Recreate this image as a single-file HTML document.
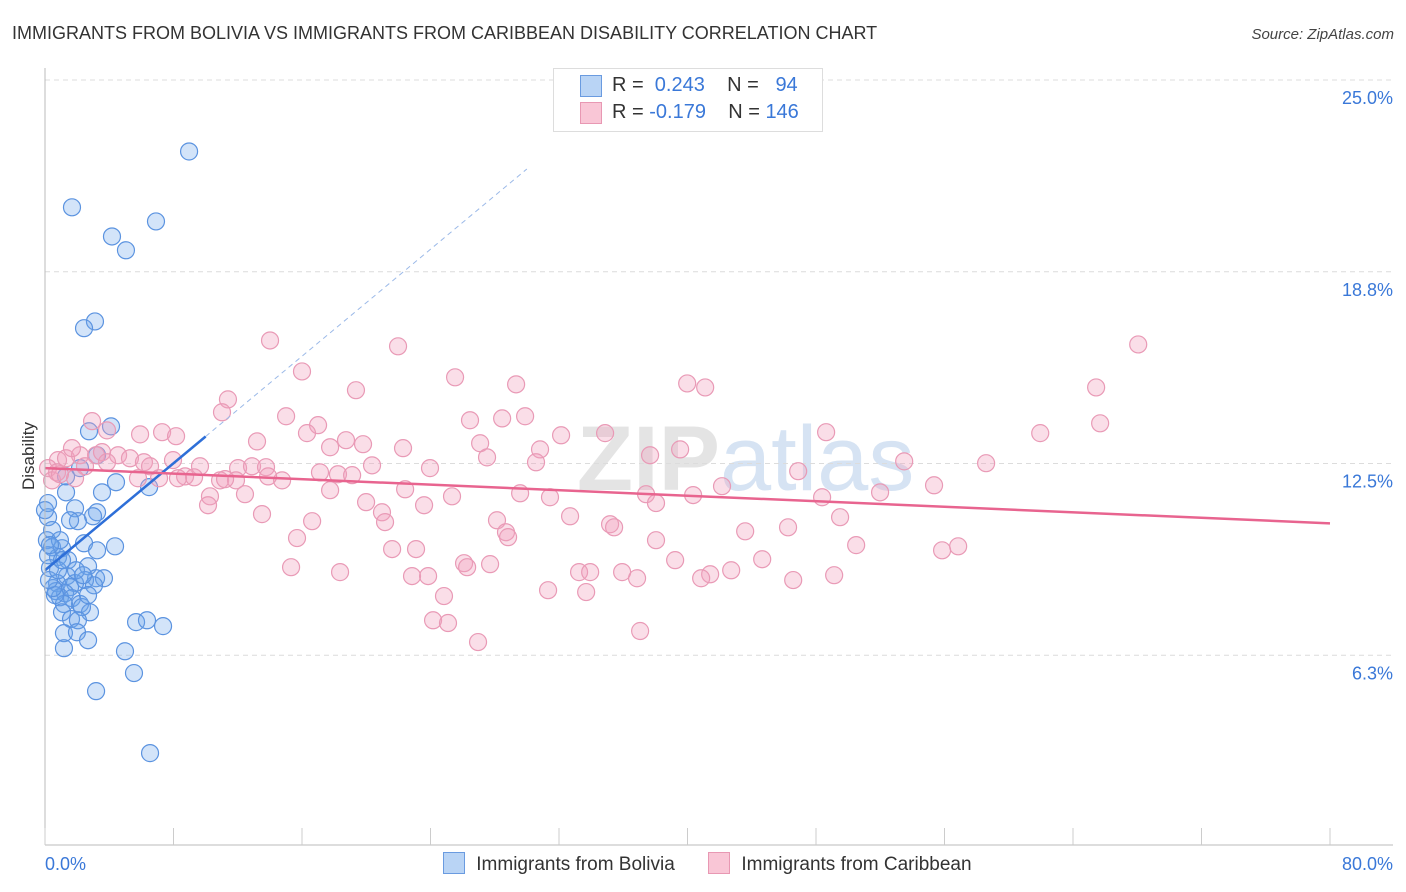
<!DOCTYPE html>
<html><head><meta charset="utf-8"><style>
body{margin:0;background:#fff;font-family:"Liberation Sans",sans-serif;}
#wrap{position:relative;width:1406px;height:892px;overflow:hidden;}
</style></head><body>
<div id="wrap">
<svg id="chart" width="1406" height="892" style="position:absolute;left:0;top:0">
<text x="12" y="39" font-size="18" fill="#333">IMMIGRANTS FROM BOLIVIA VS IMMIGRANTS FROM CARIBBEAN DISABILITY CORRELATION CHART</text>
<text x="1394" y="39" font-size="15" fill="#444" font-style="italic" text-anchor="end">Source: ZipAtlas.com</text>
<text x="720" y="490" font-size="92" font-weight="bold" fill="#e4e4e4" text-anchor="end">ZIP</text>
<text x="720" y="490" font-size="92" fill="#d6e3f3">atlas</text>
<g id="grid"></g><g id="marks"></g><g id="axes"></g>
<text x="34" y="456" font-size="17" fill="#333" text-anchor="middle" transform="rotate(-90 34 456)">Disability</text>
</svg>
<div style="position:absolute;left:553px;top:68px;width:268px;height:62px;border:1px solid #ddd;background:#fff;font-size:20px;color:#333">
 <div style="position:absolute;left:26px;top:6px;width:20px;height:20px;background:#b9d4f5;border:1px solid #6a9be0"></div>
 <div style="position:absolute;left:58px;top:5px;white-space:pre">R =  <span style="color:#3a78d8">0.243</span>    N =   <span style="color:#3a78d8">94</span></div>
 <div style="position:absolute;left:26px;top:33px;width:20px;height:20px;background:#f9c6d6;border:1px solid #e898b3"></div>
 <div style="position:absolute;left:58px;top:32px;white-space:pre">R = <span style="color:#3a78d8">-0.179</span>    N = <span style="color:#3a78d8">146</span></div>
</div>
<div style="position:absolute;top:852px;left:443px;font-size:19px;color:#333;white-space:nowrap">
 <span style="display:inline-block;width:20px;height:20px;background:#b9d4f5;border:1px solid #6a9be0;vertical-align:-4px"></span>
 <span style="margin-left:6px">Immigrants from Bolivia</span>
 <span style="display:inline-block;width:20px;height:20px;background:#f9c6d6;border:1px solid #e898b3;vertical-align:-4px;margin-left:28px"></span>
 <span style="margin-left:6px">Immigrants from Caribbean</span>
</div>
</div>
<script>
const xTickLabels=["0.0%","80.0%"];
const yTicks=[25.0,18.75,12.5,6.25];
const yTickLabels=["25.0%","18.8%","12.5%","6.3%"];
const blueX=[8.97,1.68,6.91,4.17,5.04,3.11,2.43,4.11,2.74,3.24,2.18,1.31,4.42,6.48,3.55,1.31,0.19,1.87,3.24,2.99,0.19,2.05,0.44,0.12,4.36,0.44,2.43,3.24,1.06,0.81,1.43,2.68,0.31,1.37,3.18,3.67,2.49,0.75,1.87,1.56,0.68,1.25,3.05,0.93,1.68,2.18,1.18,2.80,2.30,1.06,1.62,2.05,5.67,6.35,7.35,1.18,1.99,2.68,1.18,4.98,5.54,3.18,6.54,0.62,0.50,0.0,0.25,0.93,1.56,2.68,1.93,0.81,2.37,0.19,0.31,1.06];
const blueY=[22.67,20.85,20.39,19.90,19.45,17.13,16.91,13.71,13.55,12.77,12.35,12.08,11.89,11.73,11.56,11.56,11.21,11.04,10.91,10.78,10.75,10.62,10.33,10.00,9.80,9.77,9.90,9.67,9.74,9.45,9.35,9.15,9.09,8.83,8.76,8.76,8.70,8.60,8.60,8.47,8.34,8.27,8.53,8.14,8.11,7.92,7.92,7.65,7.82,7.65,7.43,7.39,7.33,7.39,7.20,6.97,7.00,6.74,6.48,6.38,5.67,5.08,3.06,8.21,8.44,10.98,8.70,10.0,10.65,8.21,9.02,9.02,8.86,9.51,9.84,9.35];
const pinkX=[14.01,21.98,68.06,16.00,25.53,19.36,29.33,39.98,41.10,65.44,11.39,11.02,2.93,26.46,28.46,29.89,15.01,65.69,17.00,3.86,7.29,8.16,34.87,32.13,16.31,18.74,27.09,61.96,48.63,13.20,19.80,22.29,30.82,17.75,39.54,0.81,1.31,2.18,3.18,2.49,3.55,4.55,5.29,6.16,6.54,7.97,9.65,12.02,12.89,13.76,14.76,17.12,18.24,19.12,20.36,23.97,27.52,30.57,37.67,53.49,58.59,46.89,0.19,0.44,0.75,1.87,5.79,7.10,8.72,9.28,10.90,11.89,13.89,12.45,10.27,17.75,19.99,20.98,22.42,25.34,29.58,31.44,37.42,40.35,42.15,51.99,55.35,48.38,10.15,13.51,16.63,21.17,23.60,28.14,28.70,32.69,35.18,35.43,38.04,49.50,43.59,46.26,15.69,21.61,23.10,28.83,38.04,50.50,55.85,56.85,15.32,18.37,22.85,23.85,26.09,26.28,27.71,33.25,33.94,35.93,36.86,39.23,41.41,40.85,42.72,44.65,46.58,49.13,31.32,24.84,33.69,24.16,25.09,26.96,37.05,3.86,1.68,0.93,11.21,5.92,8.28];
const pinkY=[16.51,16.32,16.38,15.50,15.31,14.89,15.08,15.11,14.98,14.98,14.59,14.17,13.88,13.91,13.97,14.04,14.04,13.81,13.75,13.58,13.52,13.39,13.49,13.42,13.49,13.26,13.16,13.49,13.52,13.22,13.13,13.00,12.96,13.03,12.96,12.61,12.67,12.77,12.77,12.41,12.87,12.77,12.67,12.54,12.41,12.61,12.41,12.35,12.41,12.38,11.95,12.21,12.15,12.12,12.44,12.35,12.70,12.54,12.77,12.57,12.51,12.25,12.35,11.95,12.21,12.02,12.02,12.02,12.08,12.05,11.95,11.95,12.08,11.50,11.43,11.63,11.24,10.91,11.66,11.43,11.53,11.40,11.50,11.47,11.76,11.56,11.79,11.40,11.14,10.85,10.62,10.59,11.14,10.65,10.26,10.78,10.52,10.42,11.21,10.75,10.29,10.42,10.07,9.71,9.71,10.10,10.00,9.84,9.67,9.80,9.12,8.96,8.83,8.83,9.25,9.12,9.22,8.96,8.96,8.96,8.76,9.35,8.89,8.76,9.02,9.38,8.70,8.86,8.37,8.18,8.31,7.39,7.30,6.68,7.04,12.54,13.00,12.15,11.99,13.45,12.02];
const blueTrend=[9.02,0.436]; // intercept, slope
const pinkTrend=[12.35,-0.0225];
const X0=45,X1=1330,Y0=847,Y1=80;
const sx=v=>X0+(v/80)*(X1-X0);
const sy=v=>Y0-(v/25)*(Y0-Y1);
const NS="http://www.w3.org/2000/svg";
function mk(t,p,a){const e=document.createElementNS(NS,t);for(const k in a)e.setAttribute(k,a[k]);p.appendChild(e);return e;}
const grid=document.getElementById('grid'),marks=document.getElementById('marks'),axes=document.getElementById('axes');
yTicks.forEach((t,i)=>{
 const l=mk('line',grid,{x1:X0,x2:1395,y1:sy(t),y2:sy(t),stroke:'#dcdcdc','stroke-dasharray':'5,4'});
 
 
 const tx=mk('text',axes,{x:1393,y:sy(t)+24,'font-size':18,fill:'#3a78d8','text-anchor':'end'});
 tx.textContent=yTickLabels[i];
 
 
});
const ya=mk('line',axes,{x1:X0,x2:X0,y1:68,y2:845,stroke:'#bbb'});


const xa=mk('line',axes,{x1:X0,x2:1393,y1:845,y2:845,stroke:'#bbb'});


for(let i=0;i<=10;i++){const t=mk('line',axes,{x1:sx(i*8),x2:sx(i*8),y1:828,y2:845,stroke:'#ccc'});
 
 }
[[0,xTickLabels[0],'start',45],[80,xTickLabels[1],'end',1393]].forEach(d=>{
 const t=mk('text',axes,{x:d[3],y:870,'font-size':18,fill:'#3a78d8','text-anchor':d[2]});t.textContent=d[1];
 
 });
blueX.forEach((x,i)=>{const c=mk('circle',marks,{cx:sx(x),cy:sy(blueY[i]),r:8.5,fill:'rgba(110,165,235,0.3)',stroke:'#5b93e0','stroke-width':1.2});
 
 });
pinkX.forEach((x,i)=>{const c=mk('circle',marks,{cx:sx(x),cy:sy(pinkY[i]),r:8.5,fill:'rgba(242,160,188,0.35)',stroke:'#e99ab6','stroke-width':1.2});
 
 });
const bt=v=>blueTrend[0]+blueTrend[1]*v;
const bd=mk('line',marks,{x1:sx(10),y1:sy(bt(10)),x2:sx(30),y2:sy(bt(30)),stroke:'#9bb9e8','stroke-width':1,'stroke-dasharray':'5,4'});


const bl=mk('line',marks,{x1:sx(0),y1:sy(bt(0)),x2:sx(10),y2:sy(bt(10)),stroke:'#2e6fd8','stroke-width':2.5});


const pt=v=>pinkTrend[0]+pinkTrend[1]*v;
const pl=mk('line',marks,{x1:sx(0),y1:sy(pt(0)),x2:sx(80),y2:sy(pt(80)),stroke:'#e8648f','stroke-width':2.5});


</script>
</body></html>
